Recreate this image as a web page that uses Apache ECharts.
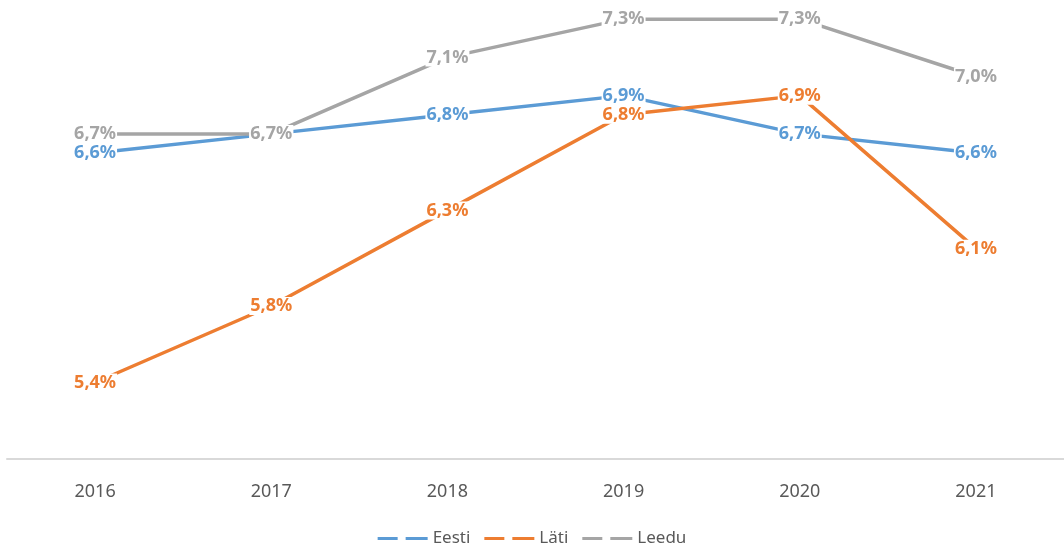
<!DOCTYPE html>
<html>
<head>
<meta charset="utf-8">
<script src="https://cdn.jsdelivr.net/npm/echarts@6/dist/echarts.min.js"></script>
<style>
  html, body { margin: 0; padding: 0; background: #fff; }
  #chart { width: 1064px; height: 554px; }
</style>
</head>
<body>
<div id="chart"></div>
<script>
const years = ['2016', '2017', '2018', '2019', '2020', '2021']
const eesti = [6.6, 6.7, 6.8, 6.9, 6.7, 6.6]
const lati = [5.4, 5.8, 6.3, 6.8, 6.9, 6.1]
const leedu = [6.7, 6.7, 7.1, 7.3, 7.3, 7.0]

const chart = echarts.init(document.getElementById('chart'))

function makeSeries(name, data, color) {
  return {
    name: name,
    type: 'line',
    data: data,
    symbol: 'circle',
    symbolSize: 1,
    itemStyle: { color: color },
    lineStyle: { width: 3.5, color: color },
    label: {
      show: true,
      position: 'inside',
      color: color,
      fontFamily: 'Noto Sans',
      fontWeight: 'bold',
      fontSize: 18,
      backgroundColor: '#fff',
      padding: [0, 1],
      formatter: p => p.value.toFixed(1).replace('.', ',') + '%'
    },
    emphasis: { disabled: true }
  }
}

chart.setOption({
  animation: false,
  textStyle: { fontFamily: 'Noto Sans' },
  grid: { left: 7, width: 1067, top: 0, bottom: 95 },
  xAxis: {
    type: 'category',
    data: years,
    axisLine: { lineStyle: { color: '#d9d9d9', width: 2 } },
    axisTick: { show: false },
    axisLabel: { color: '#595959', fontSize: 18, margin: 24 }
  },
  yAxis: {
    type: 'value',
    min: 5,
    max: 7.4,
    show: false,
    splitLine: { show: false }
  },
  legend: {
    bottom: 2,
    left: 'center',
    itemWidth: 50,
    itemHeight: 4,
    itemGap: 14,
    icon: 'path://M0,0h20v3H0z M28,0h22v3H28z',
    textStyle: { color: '#595959', fontSize: 17 },
    data: ['Eesti', 'Läti', 'Leedu']
  },
  series: [
    makeSeries('Eesti', eesti, '#5B9BD5'),
    makeSeries('Läti', lati, '#ED7D31'),
    makeSeries('Leedu', leedu, '#A5A5A5')
  ]
})
</script>
</body>
</html>
